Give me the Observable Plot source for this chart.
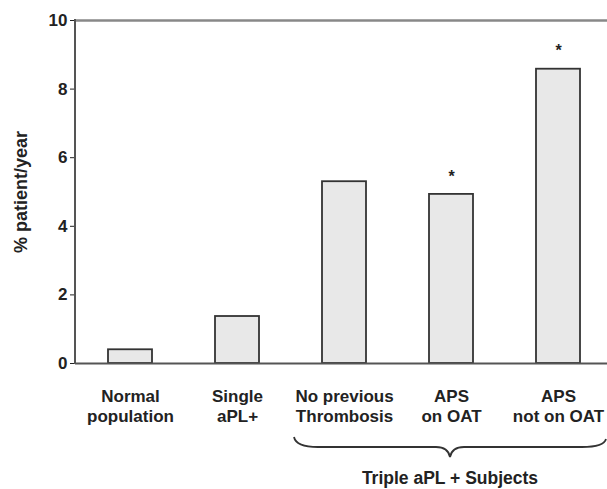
<!DOCTYPE html>
<html>
<head>
<meta charset="utf-8">
<script src="https://cdn.jsdelivr.net/npm/d3@7"></script>
<script src="https://cdn.jsdelivr.net/npm/@observablehq/plot@0.6"></script>
<style>
  html, body { margin: 0; padding: 0; background: #fff; }
  #chart { width: 607px; height: 489px; overflow: hidden; }
  #chart svg { max-width: none !important; }
  svg { font-family: "Liberation Sans", Arial, sans-serif; }
</style>
</head>
<body>
<div id="chart"></div>
<script>
const categories = ["Normal\npopulation", "Single\naPL+", "No previous\nThrombosis", "APS\non OAT", "APS\nnot on OAT"];
const values = [0.4, 1.37, 5.3, 4.93, 8.58];
const stars = ["", "", "", "*", "*"];
const yTicks = [0, 2, 4, 6, 8, 10];
const yLabel = "% patient/year";
const groupLabel = "Triple aPL + Subjects";
const groupMembers = ["No previous\nThrombosis", "APS\non OAT", "APS\nnot on OAT"];

const data = categories.map((c, i) => ({category: c, value: values[i], star: stars[i]}));

function decorations(index, scales, values, dims) {
  const ns = "http://www.w3.org/2000/svg";
  const g = document.createElementNS(ns, "g");
  const x = scales.x, y = scales.y;
  // left axis line
  const l = document.createElementNS(ns, "line");
  l.setAttribute("x1", dims.marginLeft); l.setAttribute("x2", dims.marginLeft);
  l.setAttribute("y1", y(10) - 1); l.setAttribute("y2", y(0) + 1);
  l.setAttribute("stroke", "#555"); l.setAttribute("stroke-width", 2);
  g.appendChild(l);
  // brace under group
  const first = x(groupMembers[0]) + x.bandwidth() / 2;
  const last = x(groupMembers[groupMembers.length - 1]) + x.bandwidth() / 2;
  const x0 = first - 50, x1 = last + 48, xm = (x0 + x1) / 2;
  const y0 = y(0) + 74, y1 = y(0) + 84, yt = y(0) + 94;
  const p = document.createElementNS(ns, "path");
  p.setAttribute("d",
    `M${x0},${y0} Q${x0 + 2},${y1} ${x0 + 24},${y1} L${xm - 14},${y1} Q${xm - 2},${y1} ${xm},${yt} ` +
    `Q${xm + 2},${y1} ${xm + 14},${y1} L${x1 - 24},${y1} Q${x1 - 2},${y1} ${x1},${y0 + 2}`);
  p.setAttribute("fill", "none");
  p.setAttribute("stroke", "#333");
  p.setAttribute("stroke-width", 1.8);
  g.appendChild(p);
  const t = document.createElementNS(ns, "text");
  t.setAttribute("x", xm);
  t.setAttribute("y", y(0) + 121);
  t.setAttribute("text-anchor", "middle");
  t.setAttribute("font-size", 17.5);
  t.setAttribute("font-weight", "bold");
  t.setAttribute("fill", "#222");
  t.textContent = groupLabel;
  g.appendChild(t);
  return g;
}

const chart = Plot.plot({
  width: 612,
  height: 489,
  marginLeft: 75,
  marginRight: 0,
  marginTop: 20,
  marginBottom: 126,
  style: {fontFamily: "'Liberation Sans', Arial, sans-serif", background: "#fff", color: "#222", overflow: "hidden", maxWidth: "none"},
  x: {domain: categories, type: "band", paddingInner: 0.59, paddingOuter: 0.289, label: null},
  y: {domain: [0, 10], label: null},
  marks: [
    Plot.ruleY([10], {stroke: "#888", strokeWidth: 2.5}),
    Plot.barY(data, {x: "category", y: "value", fill: "#e8e8e8", stroke: "#333", strokeWidth: 1.8}),
    Plot.ruleY([0], {stroke: "#555", strokeWidth: 2}),
    Plot.text(data, {x: "category", y: "value", text: "star", dy: -18, fontSize: 16, fontWeight: "bold", fill: "#222"}),
    Plot.axisY({ticks: yTicks, tickSize: 5, tickPadding: 3, fontSize: 17, fontWeight: "bold", label: null, tickFormat: d => String(d)}),
    Plot.axisX({tickSize: 0, tickPadding: 24, fontSize: 17, fontWeight: "bold", lineHeight: 1.18, label: null}),
    Plot.text([yLabel], {frameAnchor: "left", dx: -54, rotate: -90, textAnchor: "middle", fontSize: 18, fontWeight: "bold", fill: "#222"}),
    decorations
  ]
});
document.getElementById("chart").appendChild(chart);
</script>
</body>
</html>
